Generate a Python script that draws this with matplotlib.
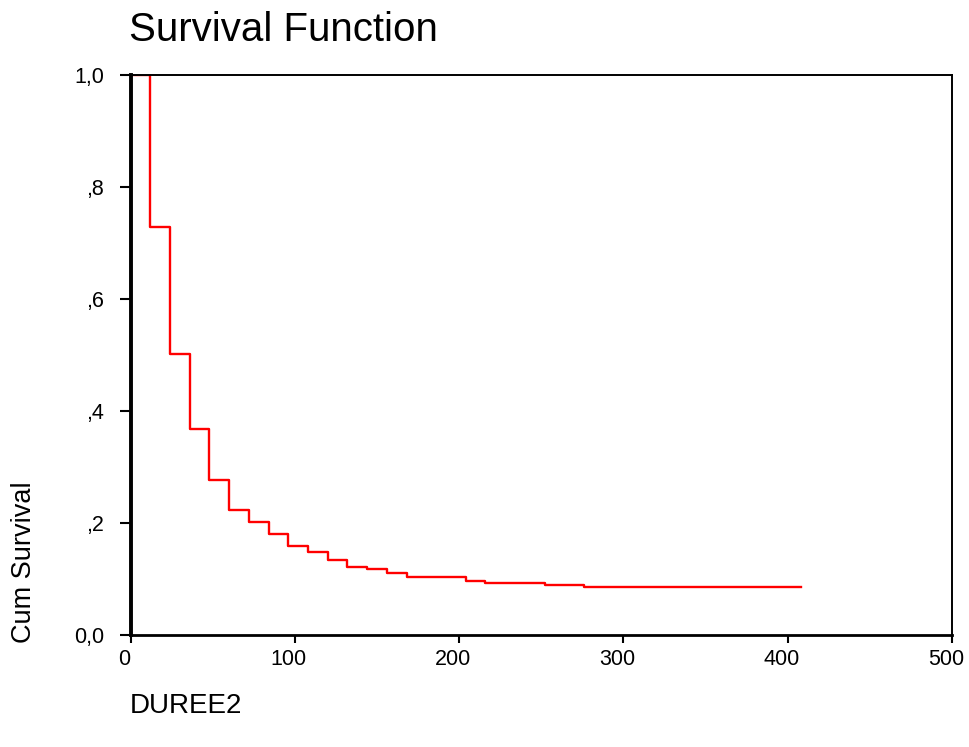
import matplotlib
matplotlib.use("Agg")
import matplotlib.pyplot as plt
import matplotlib.transforms as mtransforms

plt.rcParams["font.family"] = ["Liberation Sans", "DejaVu Sans"]

# step times (DUREE2) and cumulative survival
times = [0, 12, 24, 36, 48, 60, 72, 84, 96, 108, 120, 132, 144, 156, 168,
         204, 216, 252, 276, 408]
survival = [1.0, 0.728, 0.502, 0.367, 0.276, 0.224, 0.202, 0.181, 0.159,
            0.149, 0.133, 0.121, 0.117, 0.110, 0.103, 0.096, 0.092, 0.089,
            0.085, 0.085]

x_ticks = [0, 100, 200, 300, 400, 500]
y_ticks = [0.0, 0.2, 0.4, 0.6, 0.8, 1.0]
y_labels = ["0,0", ",2", ",4", ",6", ",8", "1,0"]

fig = plt.figure(figsize=(9.69, 7.47), dpi=100)
ax = fig.add_axes([0.1347, 0.150, 0.8478, 0.7496])

ax.plot(times, survival, drawstyle="steps-post", color="red", lw=1.7)

ax.set_xlim(0, 500)
ax.set_ylim(0, 1)
ax.set_xticks(x_ticks)
ax.set_yticks(y_ticks)
ax.set_yticklabels(y_labels)
ax.tick_params(axis="both", labelsize=15.5, direction="out", width=1.5,
               color="black")
ax.tick_params(axis="y", length=8, pad=11)
ax.tick_params(axis="x", length=6, pad=4)

# x tick labels sit a little left of their ticks in the original
shift = mtransforms.ScaledTranslation(-6 / 100, 0, fig.dpi_scale_trans)
for lab in ax.get_xticklabels():
    lab.set_transform(lab.get_transform() + shift)

ax.spines["left"].set_linewidth(2.8)
ax.spines["bottom"].set_linewidth(2.0)
ax.spines["top"].set_linewidth(1.4)
ax.spines["right"].set_linewidth(1.4)

fig.text(0.1330, 0.960, "Survival Function", fontsize=29, ha="left",
         va="center")
fig.text(0.025, 0.139, "Cum Survival", fontsize=19.5, rotation=90,
         ha="center", va="bottom")
fig.text(0.1340, 0.055, "DUREE2", fontsize=20, ha="left", va="center")

fig.savefig("out.png", dpi=100)
